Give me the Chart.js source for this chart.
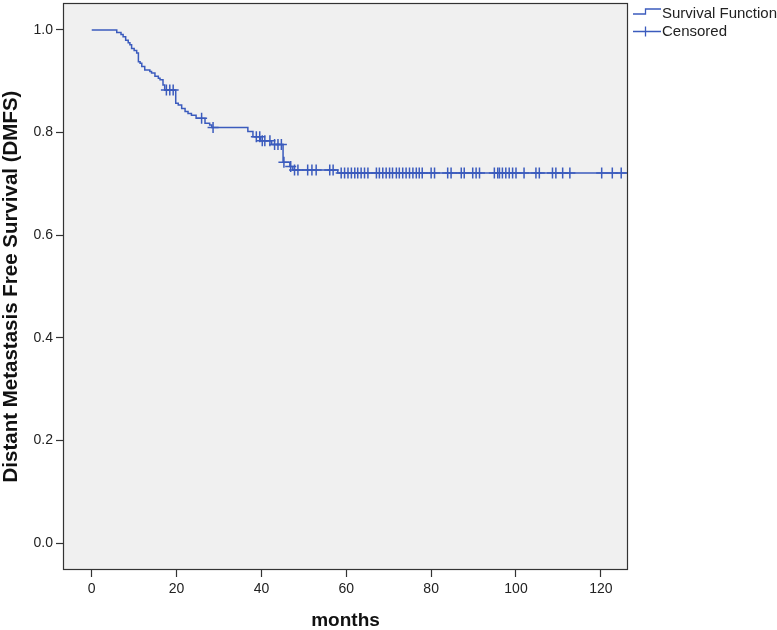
<!DOCTYPE html>
<html><head><meta charset="utf-8">
<script src="https://cdn.jsdelivr.net/npm/chart.js@4"></script>
<style>html,body{margin:0;padding:0;background:#fff;}#wrap{width:777px;height:630px;}</style>
</head><body><div id="wrap"><canvas id="c" width="777" height="630"></canvas></div>
<script>
const xTicks = [0, 20, 40, 60, 80, 100, 120];
const yTicks = [0, 0.2, 0.4, 0.6, 0.8, 1.0];
const eventTimes = [0, 5.9, 6.9, 7.4, 8.0, 8.6, 9.0, 9.4, 10.0, 10.6, 11.0, 11.4, 11.8, 12.5, 13.7, 14.1, 14.9, 15.7, 16.1, 16.8, 17.2, 19.8, 20.4, 21.2, 22.0, 22.7, 23.5, 24.6, 26.7, 27.8, 28.3, 36.8, 38.0, 39.8, 42.4, 45.1, 46.7, 47.4, 58.0, 126.3];
const survivalValues = [1.0, 0.995, 0.991, 0.987, 0.980, 0.975, 0.971, 0.964, 0.960, 0.955, 0.938, 0.935, 0.929, 0.922, 0.919, 0.916, 0.910, 0.906, 0.903, 0.893, 0.883, 0.857, 0.854, 0.847, 0.841, 0.837, 0.834, 0.828, 0.818, 0.815, 0.810, 0.802, 0.792, 0.784, 0.777, 0.742, 0.734, 0.727, 0.721, 0.721];
const censorTimes = [17.6, 18.4, 19.2, 25.9, 28.6, 38.8, 39.6, 40.2, 40.8, 42.0, 43.1, 43.9, 44.7, 45.3, 46.9, 47.8, 48.6, 50.9, 51.9, 52.9, 56.1, 56.9, 58.8, 59.6, 60.4, 61.2, 62.0, 62.7, 63.5, 64.3, 65.1, 67.1, 67.8, 68.6, 69.4, 70.2, 70.9, 71.8, 72.5, 73.3, 74.1, 74.9, 75.7, 76.5, 77.2, 77.9, 80.0, 80.8, 83.9, 84.7, 87.1, 87.8, 89.8, 90.6, 91.4, 94.9, 95.7, 96.1, 96.8, 97.6, 98.4, 99.2, 100.0, 101.9, 104.7, 105.5, 108.6, 109.4, 111.0, 112.7, 120.2, 122.7, 124.8];
const legendLabels = ['Survival Function', 'Censored'];

const BLUE = '#3b5bbd';
const FONT = "'Liberation Sans', Arial, sans-serif";
Chart.defaults.font.family = FONT;
Chart.defaults.color = '#222';

function survivalAt(t) {
  let v = survivalValues[0];
  for (let i = 0; i < eventTimes.length; i++) { if (eventTimes[i] <= t) v = survivalValues[i]; }
  return v;
}

const kmData = eventTimes.map((t, i) => ({x: t, y: survivalValues[i]}));
const censorData = censorTimes.map(t => ({x: t, y: survivalAt(t)}));

const frame = {
  id: 'frame',
  beforeDatasetsDraw(chart) {
    const {ctx, chartArea: a} = chart;
    ctx.save();
    ctx.fillStyle = '#f0f0f0';
    ctx.fillRect(a.left, a.top, a.right - a.left, a.bottom - a.top);
    ctx.restore();
  },
  afterDatasetsDraw(chart) {
    const {ctx, chartArea: a} = chart;
    ctx.save();
    ctx.strokeStyle = '#333';
    ctx.lineWidth = 1.2;
    ctx.strokeRect(a.left + 0.5, a.top + 0.5, a.right - a.left - 1, a.bottom - a.top - 1);
    // legend
    ctx.strokeStyle = BLUE;
    ctx.lineWidth = 1.3;
    ctx.beginPath();
    ctx.moveTo(633, 14); ctx.lineTo(645.5, 14); ctx.lineTo(645.5, 9); ctx.lineTo(661, 9);
    ctx.stroke();
    ctx.beginPath();
    ctx.moveTo(633, 31.5); ctx.lineTo(661, 31.5);
    ctx.moveTo(645.5, 26.5); ctx.lineTo(645.5, 36.5);
    ctx.stroke();
    ctx.fillStyle = '#222';
    ctx.font = '15px ' + FONT;
    ctx.textBaseline = 'middle';
    ctx.textAlign = 'left';
    ctx.fillText(legendLabels[0], 662, 13.5);
    ctx.fillText(legendLabels[1], 662, 31.5);
    ctx.restore();
  }
};

new Chart(document.getElementById('c'), {
  type: 'line',
  data: {
    datasets: [
      {label: legendLabels[0], data: kmData, stepped: true, borderColor: BLUE, borderWidth: 1.5, pointRadius: 0, fill: false, order: 2},
      {label: legendLabels[1], data: censorData, showLine: false, pointStyle: 'cross', pointRadius: 5.5, pointBorderWidth: 1.5, borderColor: BLUE, backgroundColor: BLUE, order: 1}
    ]
  },
  options: {
    responsive: false,
    devicePixelRatio: 1,
    animation: false,
    layout: {autoPadding: false, padding: {left: 0, right: 149, top: 3, bottom: 0}},
    plugins: {legend: {display: false}, tooltip: {enabled: false}},
    scales: {
      x: {
        type: 'linear', min: -6.77, max: 126.4,
        afterBuildTicks: s => { s.ticks = xTicks.map(v => ({value: v})); },
        afterFit: s => { s.height = 60; s.paddingLeft = 0; s.paddingRight = 0; },
        grid: {drawOnChartArea: false, drawTicks: true, tickLength: 7, color: '#333', tickWidth: 1.2},
        border: {display: false},
        ticks: {font: {size: 14}, color: '#222', padding: 4, maxRotation: 0, callback: v => String(v)},
        title: {display: true, text: 'months', font: {size: 19, weight: 'bold', lineHeight: 1}, color: '#111', padding: {top: 0, bottom: 0}}
      },
      y: {
        type: 'linear', min: -0.0526, max: 1.0526,
        afterBuildTicks: s => { s.ticks = yTicks.map(v => ({value: v})); },
        afterFit: s => { s.width = 63; s.paddingTop = 0; s.paddingBottom = 0; },
        grid: {drawOnChartArea: false, drawTicks: true, tickLength: 7, color: '#333', tickWidth: 1.2},
        border: {display: false},
        ticks: {font: {size: 14, lineHeight: 0.1}, color: '#222', padding: 3, callback: v => Number(v).toFixed(1)},
        title: {display: true, text: 'Distant Metastasis Free Survival (DMFS)', font: {size: 20.5, weight: 'bold', lineHeight: 1}, color: '#111', padding: {top: 1.5, bottom: 0}}
      }
    }
  },
  plugins: [frame]
});
</script>
</body></html>
